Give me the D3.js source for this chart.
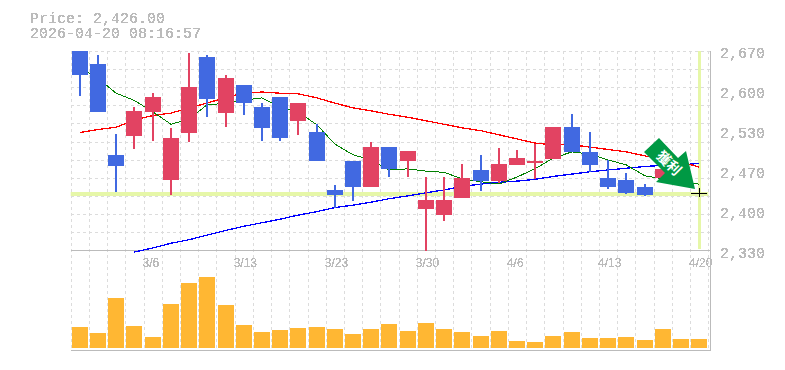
<!DOCTYPE html>
<html><head><meta charset="utf-8">
<script src="https://cdn.jsdelivr.net/npm/d3@7"></script>
<style>html,body{margin:0;background:#fff}svg{display:block}</style></head>
<body><svg id="c" width="785" height="370"></svg>
<script>
const dateLabels = {4:"3/6",9:"3/13",14:"3/23",19:"3/30",24:"4/6",29:"4/13",34:"4/20"};
const priceTicks = ["2,670","2,600","2,530","2,470","2,400","2,330"];
const open  = [2670,2648,2493,2525,2566,2450,2530,2660,2564,2612,2574,2592,2551,2532,2433,2482,2438,2506,2482,2400,2390,2419,2467,2448,2476,2479,2486,2540,2498,2453,2450,2438,2453,2462,2426];
const close = [2629,2566,2474,2568,2592,2522,2609,2588,2624,2581,2539,2522,2581,2482,2424,2438,2506,2469,2499,2416,2416,2453,2448,2477,2487,2482,2540,2498,2476,2438,2428,2424,2469,2443,2426];
const high  = [2670,2663,2528,2574,2598,2539,2667,2663,2629,2612,2581,2592,2581,2545,2441,2482,2515,2506,2499,2455,2455,2477,2493,2505,2501,2511,2540,2563,2532,2484,2462,2443,2469,2469,2436];
const low   = [2593,2566,2429,2503,2516,2424,2515,2557,2540,2561,2516,2516,2527,2482,2402,2414,2438,2455,2455,2329,2380,2419,2431,2445,2476,2452,2486,2498,2464,2435,2426,2423,2453,2440,2421];
const maShort = [2641,2624,2598,2586,2566,2545,2554,2578,2581,2586,2590,2574,2566,2544,2511,2493,2484,2467,2469,2465,2463,2452,2447,2443,2455,2469,2487,2498,2494,2484,2476,2457,2452,2445,2443];
const maMid   = [2531,2536,2540,2552,2560,2564,2573,2581,2591,2598,2600,2598,2597,2590,2581,2573,2568,2562,2557,2551,2545,2539,2534,2527,2520,2513,2510,2510,2506,2502,2498,2491,2486,2481,2472];
const maLong  = [null,null,null,2327,2334,2342,2348,2356,2364,2371,2377,2383,2390,2396,2403,2407,2412,2418,2423,2428,2433,2439,2443,2446,2448,2451,2456,2460,2464,2467,2470,2473,2475,2476,2478];
const volume  = [210,150,500,220,110,440,650,710,430,230,160,180,200,210,190,140,190,240,170,250,190,160,120,170,70,60,120,160,100,100,110,80,190,90,90];
const headerLines = ["Price: 2,426.00","2026-04-20 08:16:57"];
const arrowLabel = "獲利";

const svg = d3.select("#c");
const defs = svg.append("defs");
const f = defs.append("filter").attr("id","hard").attr("x","-5%").attr("y","-20%").attr("width","110%").attr("height","140%");
f.append("feComponentTransfer").append("feFuncA").attr("type","discrete").attr("tableValues","0 1 1");

const idx = d3.range(open.length);
const L=70.7,R=708.3,T=51,B=250.3,VB=348;
const x = d3.scaleBand().domain(idx).range([L,R]);
const y = d3.scaleLinear().domain([2330,2670]).range([B,T]);
const yv = d3.scaleLinear().domain([0,980]).range([VB,250]);
const cx = i => Math.round(x(i)+x.bandwidth()/2);
const bw = 16;
const crisp = "crispEdges";
const gridC="#dcdcdc", axisC="#bbb", textC="#bbb", band="#e6f7a8";

const grid = svg.append("g").attr("shape-rendering",crisp).attr("stroke",gridC).attr("stroke-dasharray","3,3");
d3.range(0,12).forEach(k=>{
  const v=2330+340*k/11, p=Math.round(y(v));
  grid.append("line").attr("x1",L).attr("x2",R+2).attr("y1",p).attr("y2",p);
});
d3.range(0,36).forEach(k=>{
  const p=Math.round(k<35?x(k):R);
  grid.append("line").attr("x1",p).attr("x2",p).attr("y1",T).attr("y2",350);
});

const lastI=idx[idx.length-1];
svg.append("rect").attr("x",L).attr("width",R-L).attr("y",Math.round(y(close[lastI]))-2).attr("height",4).attr("fill",band);
svg.append("rect").attr("x",cx(lastI)-1).attr("width",3).attr("y",T).attr("height",198).attr("fill",band);

const ax = svg.append("g").attr("shape-rendering",crisp).attr("stroke",axisC).attr("stroke-width",1);
ax.append("line").attr("x1",L).attr("x2",711).attr("y1",250).attr("y2",250);
ax.append("line").attr("x1",L).attr("x2",711).attr("y1",350).attr("y2",350);
ax.append("line").attr("x1",710).attr("x2",710).attr("y1",T).attr("y2",351);

const line = d3.line().defined(d=>d!=null).x((d,i)=>cx(i)).y(d=>y(d));
[[maLong,"#0000ff",1.3],[maMid,"#ff0000",1.3],[maShort,"#008000",1]].forEach(([s,c,w])=>{
  svg.append("path").attr("d",line(s)).attr("fill","none").attr("stroke",c)
     .attr("stroke-width",w).attr("shape-rendering",crisp);
});

const up="#e24362", dn="#4169e1", flat="#000";
const col=i=>close[i]>open[i]?up:close[i]<open[i]?dn:flat;
const cg=svg.append("g").attr("shape-rendering",crisp);
cg.selectAll("line").data(idx).join("line")
  .attr("x1",cx).attr("x2",cx).attr("y1",i=>y(high[i])).attr("y2",i=>y(low[i]))
  .attr("stroke",col).attr("stroke-width",i=>col(i)==flat?1:1.5);
cg.selectAll("rect").data(idx).join("rect")
  .attr("x",i=>cx(i)-bw/2).attr("width",bw)
  .attr("y",i=>y(Math.max(open[i],close[i]))-(col(i)==flat?1:0))
  .attr("height",i=>col(i)==flat?1:Math.abs(y(open[i])-y(close[i])))
  .attr("fill",col);

svg.append("g").selectAll("rect").data(idx).join("rect").attr("shape-rendering",crisp)
  .attr("x",i=>cx(i)-bw/2).attr("width",bw)
  .attr("y",i=>yv(volume[i])).attr("height",i=>VB-yv(volume[i])).attr("fill","#ffb733");

const tg=svg.append("g").attr("filter","url(#hard)").attr("fill",textC);
tg.selectAll("text.h").data(headerLines).join("text").attr("class","h")
  .attr("x",30).attr("y",(d,i)=>23+15*i).attr("font-family","'Liberation Mono'").attr("font-size",15).text(d=>d);
tg.selectAll("text.p").data(priceTicks).join("text").attr("class","p")
  .attr("x",720).attr("y",(d,i)=>58+40*i).attr("font-family","'Liberation Mono'").attr("font-size",15).text(d=>d);
tg.selectAll("text.d").data(Object.keys(dateLabels)).join("text").attr("class","d")
  .attr("x",k=>x(+k)-1).attr("y",267)
  .attr("font-family","'Liberation Sans'").attr("font-size",12).text(k=>dateLabels[k]);

const arrowAt=[cx(lastI),Math.round(y(close[lastI]))];
const ag=svg.append("g").attr("transform",`translate(${arrowAt[0]},${arrowAt[1]})`);
const poly=[[-40,-56],[-21,-36],[-13,-43],[-4,-5],[-43,-12],[-34,-21],[-55,-42]];
ag.append("path").attr("d",d3.line()(poly)+"Z").attr("fill","#009944");
ag.append("text").attr("transform","translate(-30,-31) rotate(45)").attr("text-anchor","middle")
  .attr("y",5).attr("font-family","'Noto Sans CJK TC'").attr("font-size",14).attr("font-weight",700).attr("fill","#fff").text(arrowLabel);
</script></body></html>
